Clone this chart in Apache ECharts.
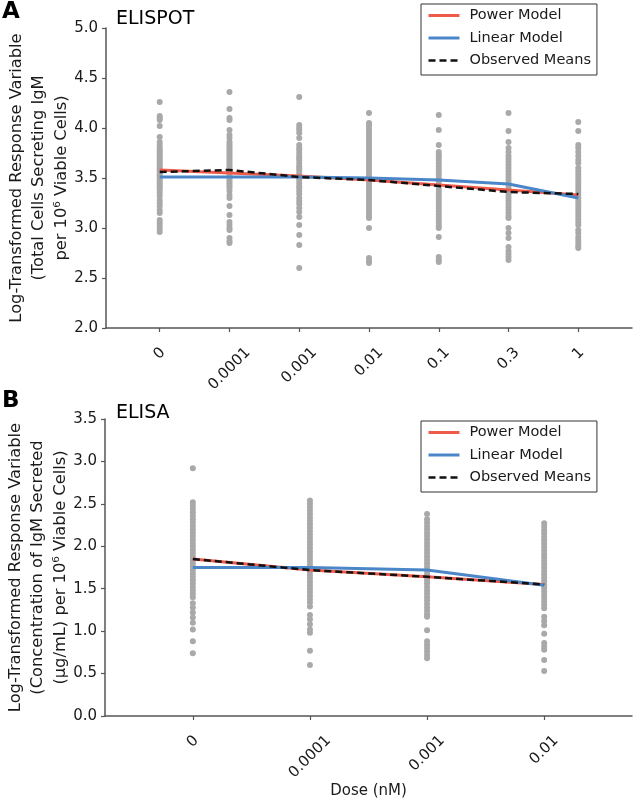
<!DOCTYPE html>
<html><head><meta charset="utf-8">
<script src="https://cdn.jsdelivr.net/npm/echarts@6/dist/echarts.min.js"></script>
<style>html,body{margin:0;padding:0;background:#fff}#c{width:634px;height:804px}</style>
</head><body><div id="c"></div>
<script>
// ---------- Panel A: ELISPOT ----------
const dosesA = ['0', '0.0001', '0.001', '0.01', '0.1', '0.3', '1'];
const yTicksA = [2.0, 2.5, 3.0, 3.5, 4.0, 4.5, 5.0];
const elispot0 = [4.26, 4.12, 4.10, 4.08, 4.02, 3.91, 3.86, 3.83, 3.80, 3.78, 3.76, 3.74, 3.72, 3.70, 3.68, 3.66, 3.64, 3.62, 3.60, 3.58, 3.56, 3.54, 3.52, 3.50, 3.48, 3.46, 3.44, 3.42, 3.40, 3.38, 3.35, 3.32, 3.28, 3.25, 3.22, 3.18, 3.15, 3.08, 3.05, 3.02, 2.99, 2.96];
const elispot1 = [4.36, 4.19, 4.10, 4.08, 3.98, 3.93, 3.90, 3.86, 3.84, 3.82, 3.80, 3.78, 3.76, 3.74, 3.72, 3.70, 3.68, 3.66, 3.64, 3.62, 3.60, 3.58, 3.56, 3.54, 3.52, 3.50, 3.48, 3.46, 3.44, 3.42, 3.40, 3.37, 3.33, 3.30, 3.22, 3.13, 3.06, 3.03, 3.00, 2.98, 2.90, 2.87, 2.85];
const elispot2 = [4.31, 4.03, 4.00, 3.98, 3.95, 3.90, 3.83, 3.80, 3.78, 3.75, 3.72, 3.70, 3.68, 3.65, 3.62, 3.60, 3.58, 3.55, 3.52, 3.50, 3.48, 3.45, 3.42, 3.40, 3.37, 3.34, 3.30, 3.27, 3.24, 3.20, 3.16, 3.11, 3.03, 2.93, 2.83, 2.60];
const elispot3 = [4.15, 4.05, 4.02, 3.99, 3.96, 3.93, 3.90, 3.87, 3.84, 3.81, 3.78, 3.75, 3.72, 3.69, 3.66, 3.63, 3.60, 3.57, 3.54, 3.51, 3.48, 3.45, 3.42, 3.39, 3.36, 3.33, 3.30, 3.27, 3.24, 3.21, 3.18, 3.15, 3.12, 3.10, 3.00, 2.70, 2.67, 2.65];
const elispot4 = [4.13, 3.98, 3.83, 3.76, 3.73, 3.71, 3.68, 3.65, 3.62, 3.59, 3.56, 3.53, 3.50, 3.47, 3.44, 3.41, 3.38, 3.35, 3.32, 3.29, 3.26, 3.23, 3.20, 3.17, 3.14, 3.11, 3.08, 3.05, 3.02, 3.00, 2.91, 2.71, 2.68, 2.66];
const elispot5 = [4.15, 3.97, 3.86, 3.80, 3.76, 3.72, 3.69, 3.66, 3.63, 3.60, 3.57, 3.54, 3.51, 3.48, 3.45, 3.42, 3.39, 3.36, 3.33, 3.30, 3.27, 3.24, 3.21, 3.18, 3.15, 3.12, 3.10, 3.00, 2.95, 2.90, 2.81, 2.77, 2.74, 2.71, 2.68];
const elispot6 = [4.06, 3.97, 3.83, 3.80, 3.76, 3.72, 3.68, 3.65, 3.60, 3.57, 3.54, 3.51, 3.48, 3.45, 3.42, 3.39, 3.36, 3.33, 3.30, 3.27, 3.24, 3.21, 3.18, 3.15, 3.12, 3.09, 3.06, 3.03, 2.98, 2.95, 2.91, 2.88, 2.85, 2.82, 2.80];
const powerA    = [3.58, 3.55, 3.52, 3.48, 3.43, 3.38, 3.33];
const linearA   = [3.51, 3.51, 3.51, 3.50, 3.48, 3.44, 3.30];
const observedA = [3.56, 3.58, 3.51, 3.48, 3.42, 3.36, 3.34];

// ---------- Panel B: ELISA ----------
const dosesB = ['0', '0.0001', '0.001', '0.01'];
const yTicksB = [0.0, 0.5, 1.0, 1.5, 2.0, 2.5, 3.0, 3.5];
const elisa0 = [2.92, 2.52, 2.48, 2.44, 2.40, 2.36, 2.32, 2.28, 2.24, 2.20, 2.16, 2.12, 2.08, 2.04, 2.00, 1.96, 1.92, 1.88, 1.84, 1.80, 1.76, 1.72, 1.68, 1.64, 1.60, 1.56, 1.52, 1.48, 1.44, 1.40, 1.33, 1.28, 1.22, 1.16, 1.10, 1.02, 0.88, 0.74];
const elisa1 = [2.54, 2.50, 2.46, 2.42, 2.38, 2.34, 2.30, 2.26, 2.22, 2.18, 2.14, 2.10, 2.06, 2.02, 1.98, 1.94, 1.90, 1.86, 1.82, 1.78, 1.74, 1.70, 1.66, 1.62, 1.58, 1.54, 1.50, 1.46, 1.42, 1.38, 1.34, 1.29, 1.19, 1.14, 1.08, 1.02, 0.98, 0.77, 0.60];
const elisa2 = [2.38, 2.32, 2.28, 2.24, 2.20, 2.16, 2.12, 2.08, 2.04, 2.00, 1.96, 1.92, 1.88, 1.84, 1.80, 1.76, 1.72, 1.68, 1.64, 1.60, 1.56, 1.52, 1.48, 1.44, 1.40, 1.36, 1.32, 1.28, 1.24, 1.20, 1.17, 1.01, 0.88, 0.84, 0.80, 0.76, 0.72, 0.68];
const elisa3 = [2.27, 2.23, 2.19, 2.15, 2.11, 2.07, 2.03, 1.99, 1.95, 1.91, 1.87, 1.83, 1.79, 1.75, 1.71, 1.67, 1.63, 1.59, 1.55, 1.51, 1.47, 1.43, 1.39, 1.35, 1.31, 1.27, 1.17, 1.12, 1.07, 0.97, 0.86, 0.82, 0.78, 0.66, 0.53];
const powerB    = [1.85, 1.72, 1.64, 1.55];
const linearB   = [1.75, 1.75, 1.72, 1.54];
const observedB = [1.85, 1.72, 1.64, 1.55];

// ---------- build ----------
const FONT = 'DejaVu Sans';
const TXT = '#1a1a1a';
const AXIS = '#555';
const RED = '#f05a4a', BLUE = '#4a86c8', GREY = '#a9a9a9';

const colsA = [elispot0, elispot1, elispot2, elispot3, elispot4, elispot5, elispot6];
const colsB = [elisa0, elisa1, elisa2, elisa3];
const toPts = cols => cols.flatMap((vals, i) => vals.map(v => [i, v]));
const toLine = arr => arr.map((v, i) => [i, v]);

const ctx = document.createElement('canvas').getContext('2d');
const LBL = 15;
ctx.font = LBL + 'px "' + FONT + '"';
function richFor(labels, pad) {
  const rich = {};
  labels.forEach((s, i) => {
    const w = ctx.measureText(s).width, h = LBL;
    const p = Math.SQRT2 * pad + (w + h) / 2;
    rich['t' + i] = { fontSize: LBL, fontFamily: FONT, color: TXT, padding: [p, p, 0, 0] };
  });
  return rich;
}

function xAxisFor(gridIndex, labels, lo, name) {
  const idx = labels.map((_, i) => i);
  return {
    type: 'value', gridIndex, min: lo, max: labels.length - 1 - lo,
    splitLine: { show: false },
    axisLine: { show: true, onZero: false, lineStyle: { color: AXIS, width: 1.5 } },
    axisTick: { show: true, length: 4, customValues: idx, lineStyle: { color: AXIS, width: 1.2 } },
    axisLabel: {
      customValues: idx, rotate: 45, margin: 0, align: 'center', verticalAlign: 'middle',
      formatter: v => '{t' + v + '|' + labels[v] + '}',
      rich: richFor(labels, 17)
    },
    name: name || '', nameLocation: 'middle', nameGap: 68, nameMoveOverlap: false,
    nameTextStyle: { fontSize: 15, fontFamily: FONT, color: TXT }
  };
}
function yAxisFor(gridIndex, ticks, name) {
  return {
    type: 'value', gridIndex, min: ticks[0], max: ticks[ticks.length - 1], interval: 0.5,
    splitLine: { show: false },
    axisLine: { show: true, onZero: false, lineStyle: { color: AXIS, width: 1.5 } },
    axisTick: { show: true, length: 4, lineStyle: { color: AXIS, width: 1.2 } },
    axisLabel: { fontSize: 15, fontFamily: FONT, color: TXT, margin: 8, formatter: v => v.toFixed(1) },
    name, nameLocation: 'middle', nameRotate: 90, nameGap: 33, nameMoveOverlap: false,
    nameTextStyle: { fontSize: 16.3, fontFamily: FONT, color: TXT, lineHeight: 22.5, align: 'center' }
  };
}
function seriesFor(i, cols, pw, li, ob) {
  return [
    { type: 'scatter', name: 'pts' + i, xAxisIndex: i, yAxisIndex: i, data: toPts(cols),
      symbolSize: 6, itemStyle: { color: GREY, opacity: 1 }, z: 1, silent: true },
    { type: 'line', name: 'Power Model', xAxisIndex: i, yAxisIndex: i, data: toLine(pw),
      symbol: 'none', lineStyle: { color: RED, width: 3 }, itemStyle: { color: RED }, z: 2 },
    { type: 'line', name: 'Linear Model', xAxisIndex: i, yAxisIndex: i, data: toLine(li),
      symbol: 'none', lineStyle: { color: BLUE, width: 3 }, itemStyle: { color: BLUE }, z: 3 },
    { type: 'line', name: 'Observed Means', xAxisIndex: i, yAxisIndex: i, data: toLine(ob),
      symbol: 'none', lineStyle: { color: '#111', width: 2.5, type: [7, 4] }, itemStyle: { color: '#111' }, z: 4 }
  ];
}
function legendAt(top) {
  return {
    data: [
      { name: 'Power Model', lineStyle: { width: 3 } },
      { name: 'Linear Model', lineStyle: { width: 3 } },
      { name: 'Observed Means', lineStyle: { width: 2.5 } }
    ],
    orient: 'vertical',
    left: 421, top, itemWidth: 31, itemHeight: 14, itemGap: 7.5, padding: [4, 6, 7, 6],
    borderColor: '#333', borderWidth: 1, backgroundColor: '#fff', borderRadius: 0,
    selectedMode: false,
    itemStyle: { opacity: 0, borderWidth: 0 },
    textStyle: { fontSize: 14.5, fontFamily: FONT, color: TXT, padding: [0, 0, 0, 5] }
  };
}

const chart = echarts.init(document.getElementById('c'), null, { renderer: 'canvas' });
chart.setOption({
  animation: false,
  backgroundColor: '#fff',
  title: [
    { text: 'A', left: 2, top: 1, padding: 0, textStyle: { fontSize: 23, fontWeight: 'bold', fontFamily: FONT, color: '#000' } },
    { text: 'ELISPOT', left: 116, top: 10, padding: 0, textStyle: { fontSize: 19, fontWeight: 'normal', fontFamily: FONT, color: '#000' } },
    { text: 'B', left: 2, top: 390, padding: 0, textStyle: { fontSize: 23, fontWeight: 'bold', fontFamily: FONT, color: '#000' } },
    { text: 'ELISA', left: 116, top: 404, padding: 0, textStyle: { fontSize: 19, fontWeight: 'normal', fontFamily: FONT, color: '#000' } }
  ],
  legend: [legendAt(4), legendAt(421)],
  grid: [
    { left: 106, top: 28, width: 526, height: 300, containLabel: false, outerBoundsMode: 'none' },
    { left: 105, top: 419, width: 527, height: 297, containLabel: false, outerBoundsMode: 'none' }
  ],
  xAxis: [xAxisFor(0, dosesA, -0.77), xAxisFor(1, dosesB, -0.75, 'Dose (nM)')],
  yAxis: [
    yAxisFor(0, yTicksA, 'Log-Transformed Response Variable\n(Total Cells Secreting IgM\nper 10⁶ Viable Cells)'),
    yAxisFor(1, yTicksB, 'Log-Transformed Response Variable\n(Concentration of IgM Secreted\n(μg/mL) per 10⁶ Viable Cells)')
  ],
  series: [...seriesFor(0, colsA, powerA, linearA, observedA), ...seriesFor(1, colsB, powerB, linearB, observedB)]
});
</script>
</body></html>
